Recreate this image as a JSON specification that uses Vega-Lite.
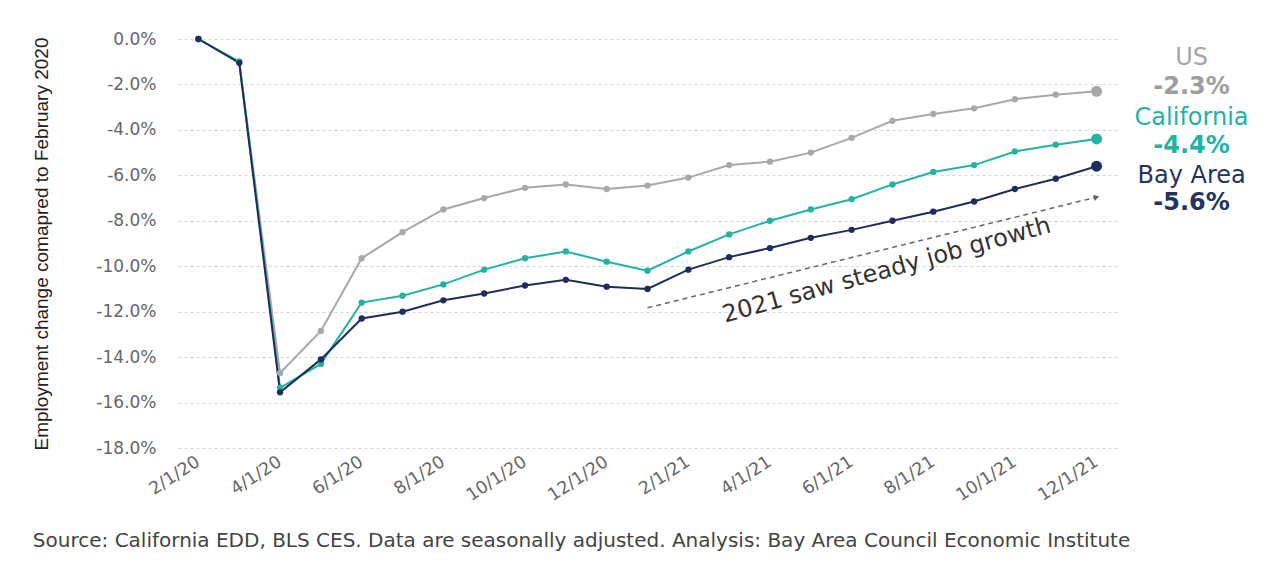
{
  "$schema": "https://vega.github.io/schema/vega-lite/v6.json",
  "width": 939,
  "height": 409,
  "padding": {"left": 32, "top": 30, "right": 5, "bottom": 5},
  "background": "white",
  "config": {
    "font": "DejaVu Sans",
    "view": {"stroke": null},
    "locale": {"number": {"decimal": ".", "thousands": ",", "grouping": [3], "currency": ["$", ""], "minus": "-"}},
    "axisX": {"labelAngle": -33, "labelAlign": "right", "labelBaseline": "middle", "labelPadding": 12, "labelFontSize": 17.5,
      "labelColor": "#666666", "domain": false, "ticks": false, "grid": false, "labelOverlap": false, "labelFlush": false, "labelBound": false, "bandPosition": 0.5},
    "axisY": {"grid": true, "gridDash": [3, 3], "gridColor": "#d4d4d4", "gridWidth": 1, "domain": false, "ticks": false,
      "labelPadding": 22, "labelFontSize": 17, "labelColor": "#666666", "titleFont": "Liberation Sans", "titleFontSize": 19,
      "titleFontWeight": "normal", "titleColor": "#222222", "titlePadding": 44}
  },
  "title": {
    "text": "Source: California EDD, BLS CES. Data are seasonally adjusted. Analysis: Bay Area Council Economic Institute",
    "orient": "bottom", "anchor": "start", "frame": "bounds",
    "font": "DejaVu Sans", "fontSize": 20, "fontWeight": "normal", "color": "#444444", "offset": 27
  },
  "datasets": {
    "emp": [
      {"date": "2/1/20", "series": "US", "value": 0},
      {"date": "3/1/20", "series": "US", "value": -0.010},
      {"date": "4/1/20", "series": "US", "value": -0.147},
      {"date": "5/1/20", "series": "US", "value": -0.1285},
      {"date": "6/1/20", "series": "US", "value": -0.0965},
      {"date": "7/1/20", "series": "US", "value": -0.085},
      {"date": "8/1/20", "series": "US", "value": -0.075},
      {"date": "9/1/20", "series": "US", "value": -0.070},
      {"date": "10/1/20", "series": "US", "value": -0.0655},
      {"date": "11/1/20", "series": "US", "value": -0.064},
      {"date": "12/1/20", "series": "US", "value": -0.066},
      {"date": "1/1/21", "series": "US", "value": -0.0645},
      {"date": "2/1/21", "series": "US", "value": -0.061},
      {"date": "3/1/21", "series": "US", "value": -0.0555},
      {"date": "4/1/21", "series": "US", "value": -0.054},
      {"date": "5/1/21", "series": "US", "value": -0.050},
      {"date": "6/1/21", "series": "US", "value": -0.0435},
      {"date": "7/1/21", "series": "US", "value": -0.036},
      {"date": "8/1/21", "series": "US", "value": -0.033},
      {"date": "9/1/21", "series": "US", "value": -0.0305},
      {"date": "10/1/21", "series": "US", "value": -0.0265},
      {"date": "11/1/21", "series": "US", "value": -0.0245},
      {"date": "12/1/21", "series": "US", "value": -0.023},
      {"date": "2/1/20", "series": "California", "value": 0},
      {"date": "3/1/20", "series": "California", "value": -0.010},
      {"date": "4/1/20", "series": "California", "value": -0.1535},
      {"date": "5/1/20", "series": "California", "value": -0.143},
      {"date": "6/1/20", "series": "California", "value": -0.116},
      {"date": "7/1/20", "series": "California", "value": -0.113},
      {"date": "8/1/20", "series": "California", "value": -0.108},
      {"date": "9/1/20", "series": "California", "value": -0.1015},
      {"date": "10/1/20", "series": "California", "value": -0.0965},
      {"date": "11/1/20", "series": "California", "value": -0.0935},
      {"date": "12/1/20", "series": "California", "value": -0.098},
      {"date": "1/1/21", "series": "California", "value": -0.102},
      {"date": "2/1/21", "series": "California", "value": -0.0935},
      {"date": "3/1/21", "series": "California", "value": -0.086},
      {"date": "4/1/21", "series": "California", "value": -0.080},
      {"date": "5/1/21", "series": "California", "value": -0.075},
      {"date": "6/1/21", "series": "California", "value": -0.0705},
      {"date": "7/1/21", "series": "California", "value": -0.064},
      {"date": "8/1/21", "series": "California", "value": -0.0585},
      {"date": "9/1/21", "series": "California", "value": -0.0555},
      {"date": "10/1/21", "series": "California", "value": -0.0495},
      {"date": "11/1/21", "series": "California", "value": -0.0465},
      {"date": "12/1/21", "series": "California", "value": -0.044},
      {"date": "2/1/20", "series": "Bay Area", "value": 0},
      {"date": "3/1/20", "series": "Bay Area", "value": -0.0105},
      {"date": "4/1/20", "series": "Bay Area", "value": -0.1555},
      {"date": "5/1/20", "series": "Bay Area", "value": -0.141},
      {"date": "6/1/20", "series": "Bay Area", "value": -0.123},
      {"date": "7/1/20", "series": "Bay Area", "value": -0.120},
      {"date": "8/1/20", "series": "Bay Area", "value": -0.115},
      {"date": "9/1/20", "series": "Bay Area", "value": -0.112},
      {"date": "10/1/20", "series": "Bay Area", "value": -0.1085},
      {"date": "11/1/20", "series": "Bay Area", "value": -0.106},
      {"date": "12/1/20", "series": "Bay Area", "value": -0.109},
      {"date": "1/1/21", "series": "Bay Area", "value": -0.110},
      {"date": "2/1/21", "series": "Bay Area", "value": -0.1015},
      {"date": "3/1/21", "series": "Bay Area", "value": -0.096},
      {"date": "4/1/21", "series": "Bay Area", "value": -0.092},
      {"date": "5/1/21", "series": "Bay Area", "value": -0.0875},
      {"date": "6/1/21", "series": "Bay Area", "value": -0.084},
      {"date": "7/1/21", "series": "Bay Area", "value": -0.080},
      {"date": "8/1/21", "series": "Bay Area", "value": -0.076},
      {"date": "9/1/21", "series": "Bay Area", "value": -0.0715},
      {"date": "10/1/21", "series": "Bay Area", "value": -0.066},
      {"date": "11/1/21", "series": "Bay Area", "value": -0.0615},
      {"date": "12/1/21", "series": "Bay Area", "value": -0.056}
    ],
    "note": [
      {"date": "7/1/21", "value": -0.1012, "text": "2021 saw steady job growth"}
    ],
    "arrow": [
      {"date": "1/1/21", "date2": "12/1/21", "value": -0.1183, "value2": -0.0696}
    ],
    "arrowhead": [
      {"date": "12/1/21", "value": -0.0696}
    ],
    "ticks": [
      {"date": "2/1/20"}, {"date": "4/1/20"}, {"date": "6/1/20"}, {"date": "8/1/20"}, {"date": "10/1/20"}, {"date": "12/1/20"},
      {"date": "2/1/21"}, {"date": "4/1/21"}, {"date": "6/1/21"}, {"date": "8/1/21"}, {"date": "10/1/21"}, {"date": "12/1/21"}
    ]
  },
  "encoding": {
    "x": {"field": "date", "type": "ordinal", "bandPosition": 0.5,
      "scale": {"type": "band", "paddingInner": 0, "paddingOuter": 0,
        "domain": ["2/1/20","3/1/20","4/1/20","5/1/20","6/1/20","7/1/20","8/1/20","9/1/20","10/1/20","11/1/20","12/1/20","1/1/21","2/1/21","3/1/21","4/1/21","5/1/21","6/1/21","7/1/21","8/1/21","9/1/21","10/1/21","11/1/21","12/1/21"]},
      "axis": {"title": null, "labelExpr": "indexof(['2/1/20','4/1/20','6/1/20','8/1/20','10/1/20','12/1/20','2/1/21','4/1/21','6/1/21','8/1/21','10/1/21','12/1/21'], datum.value) >= 0 ? datum.value : ''"}},
    "y": {"field": "value", "type": "quantitative",
      "scale": {"domain": [-0.18, 0], "nice": false, "zero": false},
      "axis": {"values": [-0.18, -0.16, -0.14, -0.12, -0.10, -0.08, -0.06, -0.04, -0.02, 0], "format": ".1%",
        "title": "Employment change comapred to February 2020"}}
  },
  "layer": [
    {
      "data": {"name": "ticks"},
      "mark": {"type": "rule", "color": "#c8c8c8", "strokeWidth": 1},
      "encoding": {
        "x": {"field": "date", "type": "ordinal", "bandPosition": 0},
        "y": {"datum": 0},
        "y2": {"datum": 0.0024}
      }
    },
    {
      "data": {"name": "ticks"},
      "mark": {"type": "rule", "color": "#d4d4d4", "strokeWidth": 1},
      "encoding": {
        "x": {"value": 0},
        "x2": {"value": "width"},
        "y": {"datum": 0}
      }
    },
    {
      "data": {"name": "emp"},
      "mark": {"type": "line", "strokeWidth": 2},
      "encoding": {
        "color": {"field": "series", "type": "nominal", "legend": null,
          "scale": {"domain": ["US", "California", "Bay Area"], "range": ["#a8a8a8", "#22b3a3", "#1f2d5a"]}}
      }
    },
    {
      "data": {"name": "emp"},
      "mark": {"type": "point", "filled": true, "size": 40, "opacity": 1},
      "encoding": {
        "color": {"field": "series", "type": "nominal", "legend": null}
      }
    },
    {
      "data": {"name": "emp"},
      "transform": [{"filter": "datum.date == '12/1/21'"}],
      "mark": {"type": "point", "filled": true, "size": 120, "opacity": 1},
      "encoding": {
        "color": {"field": "series", "type": "nominal", "legend": null}
      }
    },
    {
      "data": {"name": "emp"},
      "transform": [{"filter": "datum.date == '12/1/21' && datum.series == 'US'"}],
      "mark": {"type": "text", "dx": 95, "dy": -33, "fontSize": 24, "color": "#a6a6a6", "align": "center", "baseline": "middle"},
      "encoding": {"text": {"field": "series"}}
    },
    {
      "data": {"name": "emp"},
      "transform": [{"filter": "datum.date == '12/1/21' && datum.series == 'US'"}],
      "mark": {"type": "text", "dx": 95, "dy": -4, "fontSize": 24, "fontWeight": "bold", "color": "#9e9e9e", "align": "center", "baseline": "middle"},
      "encoding": {"text": {"field": "value", "format": ".1%"}}
    },
    {
      "data": {"name": "emp"},
      "transform": [{"filter": "datum.date == '12/1/21' && datum.series == 'California'"}],
      "mark": {"type": "text", "dx": 95, "dy": -21, "fontSize": 24, "color": "#22b3a3", "align": "center", "baseline": "middle"},
      "encoding": {"text": {"field": "series"}}
    },
    {
      "data": {"name": "emp"},
      "transform": [{"filter": "datum.date == '12/1/21' && datum.series == 'California'"}],
      "mark": {"type": "text", "dx": 95, "dy": 7, "fontSize": 24, "fontWeight": "bold", "color": "#22b3a3", "align": "center", "baseline": "middle"},
      "encoding": {"text": {"field": "value", "format": ".1%"}}
    },
    {
      "data": {"name": "emp"},
      "transform": [{"filter": "datum.date == '12/1/21' && datum.series == 'Bay Area'"}],
      "mark": {"type": "text", "dx": 95, "dy": 10, "fontSize": 24, "color": "#25335f", "align": "center", "baseline": "middle"},
      "encoding": {"text": {"field": "series"}}
    },
    {
      "data": {"name": "emp"},
      "transform": [{"filter": "datum.date == '12/1/21' && datum.series == 'Bay Area'"}],
      "mark": {"type": "text", "dx": 95, "dy": 37, "fontSize": 24, "fontWeight": "bold", "color": "#25335f", "align": "center", "baseline": "middle"},
      "encoding": {"text": {"field": "value", "format": ".1%"}}
    },
    {
      "data": {"name": "arrow"},
      "mark": {"type": "rule", "strokeDash": [5, 4], "strokeWidth": 1.5, "color": "#666666"},
      "encoding": {
        "x2": {"field": "date2"},
        "y2": {"field": "value2"}
      }
    },
    {
      "data": {"name": "arrowhead"},
      "mark": {"type": "point", "shape": "triangle-right", "filled": true, "size": 40, "angle": -14, "color": "#666666", "opacity": 1}
    },
    {
      "data": {"name": "note"},
      "mark": {"type": "text", "angle": -15.5, "fontSize": 24, "color": "#333333", "align": "center", "baseline": "middle", "dx": -6},
      "encoding": {"text": {"field": "text"}}
    }
  ]
}
